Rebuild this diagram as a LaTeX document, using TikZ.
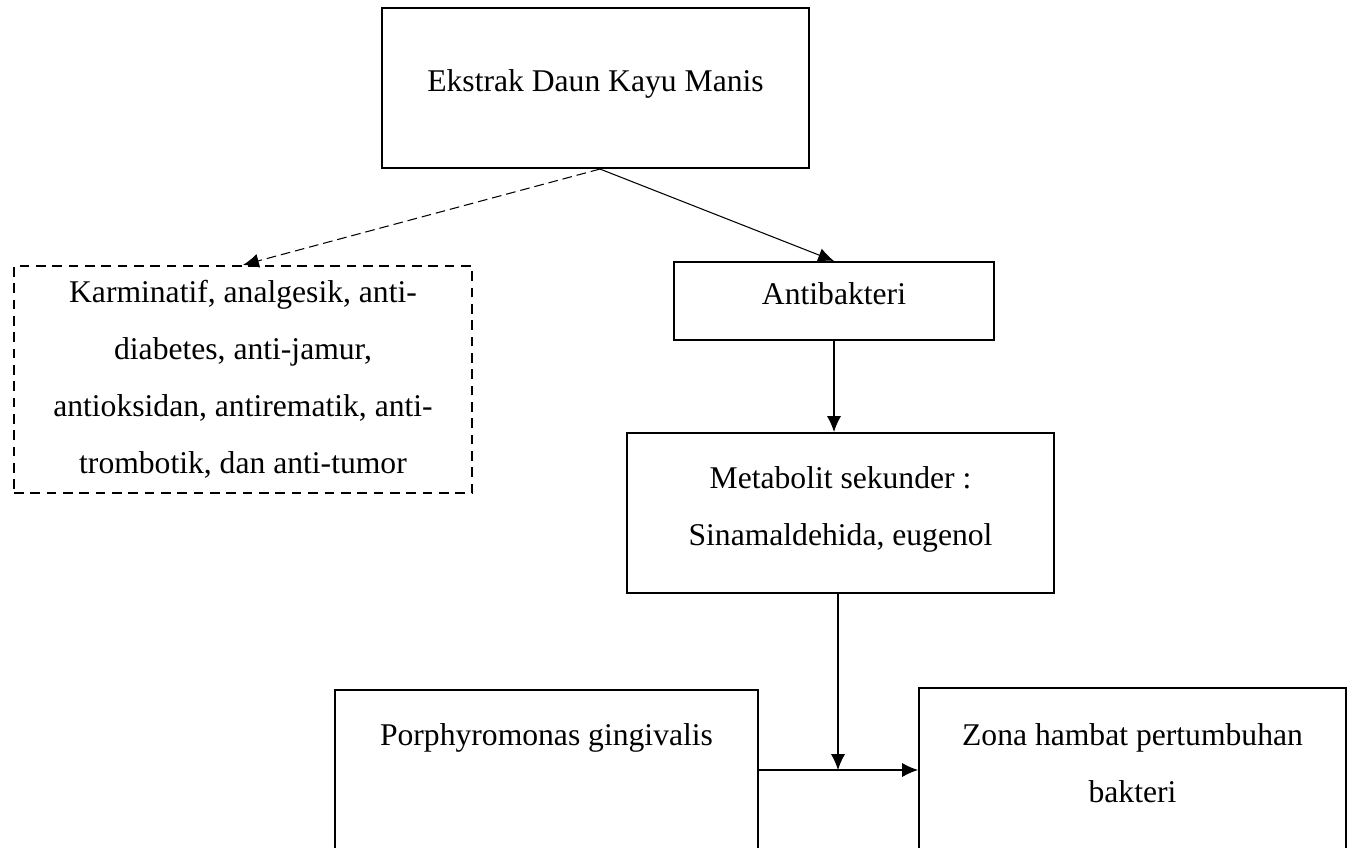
\documentclass[tikz,border=0pt]{standalone}
\usepackage{fontspec}
\setmainfont{Liberation Serif}
\usetikzlibrary{arrows.meta}

\begin{document}
\begin{tikzpicture}[x=0.02cm,y=-0.02cm,->,>={Latex[length=9pt,width=8pt]},line width=0.6pt,
    frame/.style={rectangle,draw,line width=1.2pt,align=center,font=\fontsize{18pt}{32.5pt}\selectfont},
    box node/.style={frame,text depth=8pt},
    dash node/.style={frame,dash pattern=on 5.5pt off 3.8pt}]
    \useasboundingbox (0,0) rectangle (1352,848);
            \node[box node,minimum width=8.54cm,minimum height=3.2cm] (ekstrak) at (595.5,88) {Ekstrak Daun Kayu Manis};
            \node[dash node,minimum width=9.16cm,minimum height=4.54cm] (khasiat) at (243,379.5) {Karminatif, analgesik, anti-\\diabetes, anti-jamur,\\antioksidan, antirematik, anti-\\trombotik, dan anti-tumor};
            \node[box node,minimum width=6.4cm,minimum height=1.56cm] (antibakteri) at (834,301) {Antibakteri};
            \node[box node,minimum width=8.54cm,minimum height=3.2cm] (metabolit) at (840.5,513) {Metabolit sekunder :\\Sinamaldehida, eugenol};
            \node[box node,minimum width=8.46cm,minimum height=3.2cm] (porphyro) at (546.5,770) {Porphyromonas gingivalis\\ \mbox{}};
            \node[box node,minimum width=8.54cm,minimum height=3.28cm] (zona) at (1132.5,770) {Zona hambat pertumbuhan\\bakteri};

            \coordinate (split) at ([xshift=0.09cm]ekstrak.south);
            \coordinate (meet) at ([xshift=-0.05cm]metabolit.south |- porphyro.east);

            \path
                (split) edge (antibakteri.north)
                (antibakteri.south) edge (antibakteri.south |- metabolit.north)
                ([xshift=-0.05cm]metabolit.south) edge (meet)
                (porphyro.east) edge (zona.west)
                ;
            \draw[dash pattern=on 5.5pt off 2.8pt] (split) -- (khasiat.north);
        \end{tikzpicture}
\end{document}
